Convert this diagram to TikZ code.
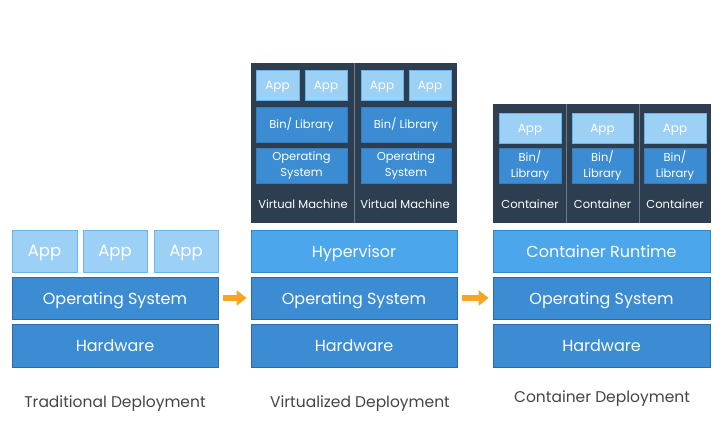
\documentclass[tikz,border=0pt]{standalone}
\usepackage{fontspec}
\setmainfont{Poppins}
\usetikzlibrary{arrows.meta}
\definecolor{midblue}{HTML}{3B8CD2}
\definecolor{midedge}{HTML}{2A6BAA}
\definecolor{ltblue}{HTML}{4BA6EC}
\definecolor{ltedge}{HTML}{3388CC}
\definecolor{appfill}{HTML}{9DD0F5}
\definecolor{appedge}{HTML}{6BB4E8}
\definecolor{darkbg}{HTML}{2C3E50}
\definecolor{divider}{HTML}{6B7B8C}
\definecolor{arrowc}{HTML}{F5A623}
\definecolor{captc}{HTML}{444444}
\tikzset{
  base/.style={inner sep=0pt, text=white, line width=0.8pt, align=center},
  oneline/.style={base, text depth=0pt},
  bigapp/.style={oneline, fill=appfill, draw=appedge, minimum height=42pt, font=\fontsize{16.5}{18}\selectfont},
  layer/.style={oneline, fill=midblue, draw=midedge, minimum width=206pt, minimum height=42pt, font=\fontsize{16}{18}\selectfont},
  toplayer/.style={oneline, fill=ltblue, draw=ltedge, minimum height=42pt, font=\fontsize{16}{18}\selectfont},
  smallapp/.style={oneline, fill=appfill, draw=appedge, minimum height=30pt, font=\fontsize{12}{13}\selectfont},
  inner/.style={base, fill=midblue, draw=midblue!90!black, minimum height=35pt, font=\fontsize{11.5}{15.5}\selectfont},
  boxlabel/.style={text=white, font=\fontsize{11.5}{13}\selectfont},
  darkblock/.style={fill=darkbg, draw=none, inner sep=0pt},
  sepline/.style={draw=divider, line width=0.8pt},
  caption/.style={text=captc, font=\fontsize{15.5}{17}\selectfont},
  flow/.style={draw=arrowc, line width=6pt, -{Triangle[width=15pt,length=10pt]}, shorten <=5pt, shorten >=4pt}
}
\begin{document}
\begin{tikzpicture}[x=1pt,y=-1pt]
\useasboundingbox (0,0) rectangle (720,440);
% ---------- Traditional ----------
\node[bigapp, minimum width=65pt] (tapp1) at (44.5,251) {App};
\node[bigapp, minimum width=64pt] (tapp2) at (115,251) {App};
\node[bigapp, minimum width=64pt] (tapp3) at (186,251) {App};
\node[layer] (tos) at (115,298) {Operating System};
\node[layer, minimum height=43pt] (thw) at (115,345.5) {Hardware};
\node[caption] (tcap) at (115,403.5) {Traditional Deployment};
% ---------- Virtualized ----------
\node[darkblock, minimum width=206pt, minimum height=160pt] (vblock) at (354,143) {};
\draw[sepline] (vblock.north) -- (vblock.south);
\node[smallapp, minimum width=43pt] (vapp1) at (277.5,85) {App};
\node[smallapp, minimum width=42pt] (vapp2) at (326,85) {App};
\node[inner, minimum width=91pt] (vbin1) at (301.5,124.5) {Bin/ Library};
\node[inner, minimum width=91pt] (vos1) at (301.5,165.5) {Operating\\System};
\node[boxlabel] (vvm1) at (303,204) {Virtual Machine};
\node[smallapp, minimum width=42pt] (vapp3) at (382,85) {App};
\node[smallapp, minimum width=42pt] (vapp4) at (430,85) {App};
\node[inner, minimum width=90pt] (vbin2) at (406,124.5) {Bin/ Library};
\node[inner, minimum width=90pt] (vos2) at (406,165.5) {Operating\\System};
\node[boxlabel] (vvm2) at (405,204) {Virtual Machine};
\node[toplayer, minimum width=206pt] (hyp) at (354,251) {Hypervisor};
\node[layer] (vos) at (354,298) {Operating System};
\node[layer, minimum height=43pt] (vhw) at (354,345.5) {Hardware};
\node[caption] (vcap) at (360,403.5) {Virtualized Deployment};
% ---------- Container ----------
\node[darkblock, minimum width=218pt, minimum height=119pt] (cblock) at (602,163.5) {};
\coordinate (cd1t) at (566,104); \coordinate (cd1b) at (566,223);
\coordinate (cd2t) at (639,104); \coordinate (cd2b) at (639,223);
\draw[sepline] (cd1t) -- (cd1b);
\draw[sepline] (cd2t) -- (cd2b);
\node[smallapp, minimum width=62pt] (capp1) at (530,128) {App};
\node[smallapp, minimum width=61pt] (capp2) at (602.5,128) {App};
\node[smallapp, minimum width=62pt] (capp3) at (675,128) {App};
\node[inner, minimum width=62pt] (cbin1) at (530,165.5) {Bin/\\Library};
\node[inner, minimum width=61pt] (cbin2) at (602.5,165.5) {Bin/\\Library};
\node[inner, minimum width=62pt] (cbin3) at (675,165.5) {Bin/\\Library};
\node[boxlabel] (cl1) at (530,204) {Container};
\node[boxlabel] (cl2) at (602.5,204) {Container};
\node[boxlabel] (cl3) at (675,204) {Container};
\node[toplayer, minimum width=217pt] (crt) at (601.5,251) {Container Runtime};
\node[layer, minimum width=217pt] (cos) at (601.5,298) {Operating System};
\node[layer, minimum width=217pt, minimum height=43pt] (chw) at (601.5,345.5) {Hardware};
\node[caption] (ccap) at (602,398.5) {Container Deployment};
% ---------- arrows ----------
\draw[flow] (tos.east) -- (vos.west);
\draw[flow] (vos.east) -- (cos.west);
\end{tikzpicture}
\end{document}
